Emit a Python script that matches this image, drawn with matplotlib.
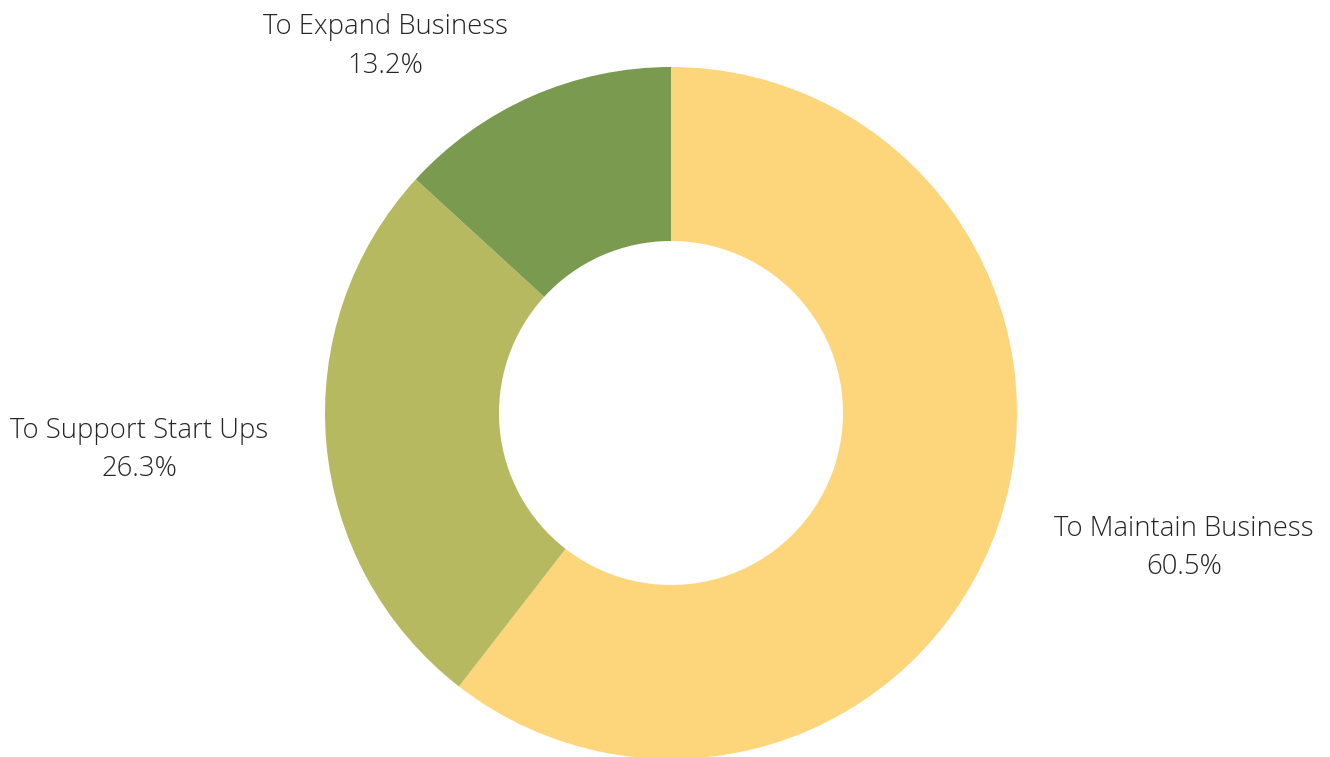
import matplotlib
matplotlib.use("Agg")
import matplotlib.pyplot as plt
import numpy as np

categories = ["To Maintain Business", "To Support Start Ups", "To Expand Business"]
values = [60.5, 26.3, 13.2]
colors = ["#FDD67C", "#B7B960", "#7A9A50"]

W, H = 1330, 757
fig = plt.figure(figsize=(W / 100, H / 100), dpi=100)
ax = fig.add_axes([0, 0, 1, 1])

cx, cy = 671, H - 413
R = 346
ax.pie(values, colors=colors, startangle=90, counterclock=False,
       radius=R, center=(cx, cy), frame=True,
       wedgeprops=dict(width=R - 172, linewidth=0))
ax.set_xlim(0, W)
ax.set_ylim(0, H)
ax.set_aspect("equal")
ax.axis("off")

# label anchor positions (pixel layout, top-left origin)
label_pos = [(1184, 548), (139, 450), (385.5, 46.5)]
for name, v, (lx, ly) in zip(categories, values, label_pos):
    ax.text(lx, H - ly, f"{name}\n{v:.1f}%", ha="center", va="center",
            fontsize=19.8, family="Open Sans", fontweight="light",
            color="#262626", linespacing=1.51)

fig.savefig("out.png", dpi=100)
